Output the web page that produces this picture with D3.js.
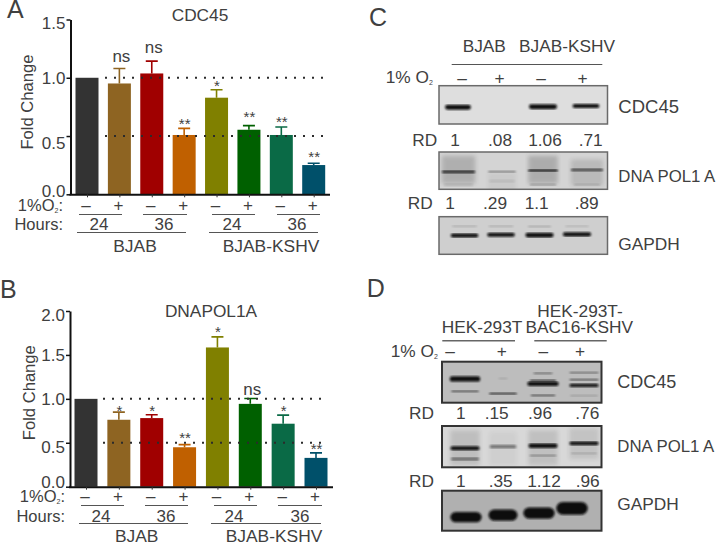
<!DOCTYPE html>
<html><head><meta charset="utf-8">
<script src="https://cdn.jsdelivr.net/npm/d3@7/dist/d3.min.js"></script>
<style>
html,body{margin:0;padding:0;background:#fff}
svg{display:block}
text{font-family:"Liberation Sans",Arial,sans-serif;fill:#404040}
</style></head><body><svg id="c" width="717" height="543"></svg>
<script>
// ---- data ----
const conditions = ["BJAB 24 -","BJAB 24 +","BJAB 36 -","BJAB 36 +","KSHV 24 -","KSHV 24 +","KSHV 36 -","KSHV 36 +"];
const barColors = ["#333333","#8e6422","#a00000","#c06000","#808000","#006000","#0a6a46","#00506a"];
const oxygen = ["–","+","–","+","–","+","–","+"];
const hours = ["24","36","24","36"];
const cellLines = ["BJAB","BJAB-KSHV"];

const cdc45Values = [1.0,0.951,1.037,0.509,0.829,0.554,0.509,0.251];
const cdc45Errors = [1.0,1.08,1.143,0.566,0.897,0.589,0.577,0.266];
const cdc45Marks  = ["","ns","ns","**","*","**","**","**"];
const cdc45MarkAt = [0,1.137,1.209,0.551,0.874,0.609,0.566,0.266];
const cdc45Ticks  = [0,0.5,1.0,1.5];

const pol1Values = [1.0,0.762,0.781,0.449,1.585,0.943,0.717,0.328];
const pol1Errors = [1.0,0.849,0.819,0.479,1.706,1.004,0.815,0.385];
const pol1Marks  = ["","*","*","**","*","ns","*","**"];
const pol1MarkAt = [0,0.792,0.792,0.479,1.687,1.045,0.792,0.351];
const pol1Ticks  = [0,0.5,1.0,1.5,2.0];

const refLevels = [0.5,1.0];

const rdC1 = ["1",".08","1.06",".71"];
const rdC2 = ["1",".29","1.1",".89"];
const rdD1 = ["1",".15",".96",".76"];
const rdD2 = ["1",".35","1.12",".96"];

// blot bands: [lane, relative position in the blot, ink 0-1, thickness share, relative width]
const bandsC1 = [[0,.56,1,.13,.92],[2,.55,1,.13,1],[3,.53,1,.11,.96]];
const smearC2 = [[0,.1,.22,.75,1.15],[1,.55,.06,.6,.95],[2,.1,.24,.75,1.02],[3,.2,.16,.7,1.1]];
const bandsC2 = [[0,.53,1,.06,1.15],[1,.53,.5,.035,.95],[2,.5,1,.06,1.02],[3,.48,1,.05,1.1],
                 [0,.88,.15,.06,1],[2,.88,.3,.05,.9],[3,.88,.2,.04,.9],[1,.78,.1,.06,.9]];
const bandsC3 = [[0,.5,1,.11,.95],[1,.48,1,.11,.95],[2,.49,1,.12,.97],[3,.47,1,.11,.97],
                 [0,.25,.22,.04,.85],[1,.25,.22,.04,.85],[2,.26,.22,.04,.8],[3,.25,.18,.04,.8]];
const bandsD1 = [[0,.42,1,.13,1.05],[0,.72,.7,.04,.95],[1,.41,.2,.025,.3],[1,.78,.8,.05,.95],
                 [2,.54,1,.11,1.08],[2,.46,.7,.05,.9],[2,.82,.6,.045,.85],[2,.28,.5,.04,.65],
                 [3,.58,1,.08,1],[3,.44,.65,.04,1],[3,.27,.5,.035,1],[3,.83,.2,.035,.95]];
const smearD2 = [[0,.1,.15,.85,1],[1,.15,.05,.8,.92],[2,.1,.14,.85,1],[3,.05,.12,.75,1]];
const bandsD2 = [[0,.54,1,.1,1],[0,.8,.5,.07,.97],[1,.5,.5,.08,.92],[2,.48,1,.11,1],[2,.72,.35,.05,.92],[3,.42,1,.09,1],[3,.66,.2,.04,.9]];
const bandsD3 = [[0,.66,1,.26,1.08],[1,.61,1,.28,1],[2,.56,1,.28,1.08],[3,.44,1,.32,1.08]];

// ---- drawing ----
const svg = d3.select("#c");
const defs = svg.append("defs");
defs.append("filter").attr("id","b1").append("feGaussianBlur").attr("stdDeviation",0.9);
defs.append("filter").attr("id","b2").append("feGaussianBlur").attr("stdDeviation",2);

function txt(x,y,s,o={}){
  const t=svg.append("text").attr("x",x).attr("y",y).attr("font-size",o.size||17.3)
    .attr("text-anchor",o.anchor||"start").text(s);
  return t;
}
function rule(x0,x1,y,c="#555",w=1){
  svg.append("line").attr("x1",x0).attr("x2",x1).attr("y1",y).attr("y2",y).attr("stroke",c).attr("stroke-width",w);
}
function o2(x,y,label,o={}){
  const t=txt(x,y,label,o);
  t.append("tspan").attr("font-size",7).attr("dy",2).text("2");
  return t;
}

function barPanel(p){
  const g=svg.append("g");
  const x=d3.scalePoint().domain(conditions).range(p.xr);
  const y=d3.scaleLinear().domain([0,p.max]).range([p.y0,p.y1]);
  const w=23;
  g.selectAll(".bar").data(p.values).join("rect").attr("class","bar")
    .attr("x",(d,i)=>x(conditions[i])-w/2).attr("width",w)
    .attr("y",d=>y(d)).attr("height",d=>p.y0-y(d)).attr("fill",(d,i)=>barColors[i]);
  p.errors.forEach((e,i)=>{
    if(e<=p.values[i])return;
    const cx=x(conditions[i]);
    g.append("path").attr("d",`M${cx},${y(p.values[i])}V${y(e)}M${cx-6},${y(e)}H${cx+6}`)
      .attr("stroke",barColors[i]).attr("stroke-width",1.6).attr("fill","none");
  });
  refLevels.forEach(v=>{
    g.append("line").attr("x1",p.refX[0]).attr("x2",p.refX[1]).attr("y1",y(v)).attr("y2",y(v))
      .attr("stroke","#2b2b2b").attr("stroke-width",2).attr("stroke-dasharray","2 7");
  });
  const ax=g.append("g").attr("transform",`translate(${p.axX},0)`)
    .call(d3.axisLeft(y).tickValues(p.ticks).tickFormat(d3.format(".1f")).tickSize(4).tickSizeOuter(0));
  ax.selectAll("path").attr("stroke","#111").attr("stroke-width",2);
  ax.selectAll("line").attr("stroke","#111").attr("stroke-width",1.5);
  ax.selectAll("text").attr("font-size",17).attr("fill","#404040").attr("x",-5)
    .attr("font-family",'"Liberation Sans",Arial,sans-serif')
    .attr("dy",d=>p.tickDy(d));
  const bx=g.append("g").attr("transform",`translate(0,${p.y0})`)
    .call(d3.axisBottom(x).tickSize(3).tickSizeOuter(0).tickFormat(""));
  bx.select("path").attr("d",`M${p.axX-1},0.5H${p.axEnd}`).attr("stroke","#111").attr("stroke-width",2);
  bx.selectAll("line").attr("stroke","#333").attr("stroke-width",1);
  p.marks.forEach((m,i)=>{
    if(!m)return;
    const ns=m==="ns";
    txt(x(conditions[i])+(ns?2:0.5),y(p.markAt[i])-(ns?0:1.5),m,{anchor:"middle",size:ns?17:15});
  });
  txt(p.titleX,p.titleY,p.title,{anchor:"middle"});
  txt(0,0,"Fold Change",{size:16.6}).attr("x",null).attr("y",null).attr("text-anchor","middle")
    .attr("transform",`translate(${p.ylab[0]},${p.ylab[1]}) rotate(-90)`);
  // treatment rows
  o2(p.o2End,p.rowO,"1%O",{anchor:"end",size:16.5}).append("tspan").attr("dy",-2).text(":");
  txt(p.o2End,p.rowH,"Hours:",{anchor:"end",size:16.5});
  oxygen.forEach((s,i)=>txt(x(conditions[i])-1,p.rowO,s,{anchor:"middle",size:17}));
  p.hourRules.forEach(([a,b],i)=>{
    rule(a,b,p.ruleO);
    txt(p.hourX[i],p.rowH,hours[i],{anchor:"middle",size:17});
  });
  p.lineRules.forEach(([a,b],i)=>{
    rule(a,b,p.ruleH);
    txt(p.lineX[i],p.rowL,cellLines[i],{anchor:"middle",size:17.4});
  });
}

barPanel({values:cdc45Values,errors:cdc45Errors,marks:cdc45Marks,markAt:cdc45MarkAt,ticks:cdc45Ticks,max:1.5,
  xr:[87,313.7],y0:194.3,y1:19.5,axX:70.5,axEnd:330,refX:[105,324],title:"CDC45",titleX:200,titleY:21,
  tickDy:d=>({0:"0.15em",0.5:"0.75em",1:"0.35em",1.5:"0.55em"}[d]),
  ylab:[33,102],o2End:63,rowO:211,rowH:230,rowL:251.5,ruleO:214.5,ruleH:232.5,
  hourX:[99,164,232,297],lineX:[135,271],
  hourRules:[[79,122],[143,187],[212,255],[277,320]],lineRules:[[77,186],[209,318]]});

barPanel({values:pol1Values,errors:pol1Errors,marks:pol1Marks,markAt:pol1MarkAt,ticks:pol1Ticks,max:2,
  xr:[86,316],y0:486.7,y1:311,axX:70,axEnd:333,refX:[103,323],title:"DNAPOL1A",titleX:211,titleY:317,
  tickDy:d=>({0:"0.05em",0.5:"0.6em",1:"0.35em",1.5:"0.35em",2:"0.55em"}[d]),
  ylab:[35,392.7],o2End:65,rowO:502.3,rowH:521.5,rowL:542,ruleO:505.5,ruleH:523.5,
  hourX:[101,166,234,300],lineX:[136.7,274],
  hourRules:[[81,124],[145,188],[214,257],[278,322]],lineRules:[[79,188],[211,321]]});

function blot(b){
  const g=svg.append("g");
  const lane=d3.scaleOrdinal().domain([0,1,2,3]).range(b.lanes);
  const y=d3.scaleLinear().domain([0,1]).range([b.y0,b.y1]);
  const h=b.y1-b.y0;
  g.append("rect").attr("x",b.x0).attr("y",b.y0).attr("width",b.x1-b.x0).attr("height",h)
    .attr("fill",b.bg);
  const clip="cl"+b.id;
  defs.append("clipPath").attr("id",clip).append("rect").attr("x",b.x0).attr("y",b.y0).attr("width",b.x1-b.x0).attr("height",h);
  const inner=g.append("g").attr("clip-path",`url(#${clip})`);
  (b.smear||[]).forEach(([l,p,ink,t,wr])=>{
    const w=b.bandW*wr;
    inner.append("rect").attr("x",lane(l)-w/2).attr("y",y(p)).attr("width",w).attr("height",t*h)
      .attr("fill","#333").attr("opacity",ink).attr("filter","url(#b2)");
  });
  b.bands.forEach(([l,p,ink,t,wr])=>{
    const w=b.bandW*wr, th=t*h;
    inner.append("rect").attr("x",lane(l)-w/2).attr("y",y(p)-th/2).attr("width",w).attr("height",th)
      .attr("rx",th/2).attr("fill","#0b0b0b").attr("opacity",ink).attr("filter","url(#b1)");
  });
  g.append("rect").attr("x",b.x0).attr("y",b.y0).attr("width",b.x1-b.x0).attr("height",h)
    .attr("fill","none").attr("stroke",b.edge).attr("stroke-width",b.edgeW);
}
const lanesC=[458,502,543,586];
blot({id:"c1",x0:439,x1:607.5,y0:85.7,y1:124,bg:"#dedede",edge:"#6a6a6a",edgeW:1.5,lanes:lanesC,bandW:28,bands:bandsC1});
blot({id:"c2",x0:439,x1:607.5,y0:152,y1:189.3,bg:"#d4d4d4",edge:"#6a6a6a",edgeW:1.5,lanes:[458.5,502,543,587],bandW:29,bands:bandsC2,smear:smearC2});
blot({id:"c3",x0:439,x1:607.5,y0:216.7,y1:254.3,bg:"#cfcfcf",edge:"#6a6a6a",edgeW:1.5,lanes:[464.5,501,539.5,577],bandW:29,bands:bandsC3});
const lanesD=[465,503,543,584];
blot({id:"d1",x0:442,x1:601.5,y0:361.7,y1:402.7,bg:"#bdbdbd",edge:"#333",edgeW:2,lanes:lanesD,bandW:29,bands:bandsD1});
blot({id:"d2",x0:442,x1:601.5,y0:426,y1:467.3,bg:"#d8d8d8",edge:"#333",edgeW:2,lanes:lanesD,bandW:29,bands:bandsD2,smear:smearD2});
blot({id:"d3",x0:442,x1:601.5,y0:490.7,y1:530.7,bg:"#b0b0b0",edge:"#333",edgeW:2,lanes:[466,503,539,572],bandW:29,bands:bandsD3});

// panel C labels
txt(484.3,51.7,cellLines[0],{anchor:"middle"});
txt(567,51.7,cellLines[1],{anchor:"middle"});
rule(451.7,602.3,64.5,"#555",1);
o2(385.7,83.3,"1% O");
[462,499.5,541,582.5].forEach((cx,i)=>txt(cx,83.5,oxygen[i],{anchor:"middle"}));
txt(412.3,146,"RD");
[455,500,545,590.7].forEach((cx,i)=>txt(cx,146,rdC1[i],{anchor:"middle"}));
txt(407.7,209.3,"RD");
[450,495,536.7,586.7].forEach((cx,i)=>txt(cx,209.3,rdC2[i],{anchor:"middle"}));
txt(618.3,113,"CDC45",{size:18.5});
txt(618.3,181.7,"DNA POL1 A",{size:16.8});
txt(618.3,250,"GAPDH");

// panel D labels
txt(580,316.7,"HEK-293T-",{anchor:"middle"});
txt(579.3,333.3,"BAC16-KSHV",{anchor:"middle"});
txt(482,333.3,"HEK-293T",{anchor:"middle"});
rule(442.3,515,340.7,"#666",1.5);
rule(534.3,606.7,340.7,"#666",1.5);
o2(390.7,357.3,"1% O");
[450,501.7,543.3,580].forEach((cx,i)=>txt(cx,357.3,oxygen[i],{anchor:"middle"}));
txt(409,419.3,"RD");
[460.7,496.7,540,587.3].forEach((cx,i)=>txt(cx,419.3,rdD1[i],{anchor:"middle"}));
txt(409,486.7,"RD");
[460.7,500.7,544,587.7].forEach((cx,i)=>txt(cx,486.7,rdD2[i],{anchor:"middle"}));
txt(617.3,388.3,"CDC45",{size:18});
txt(617.3,452.3,"DNA POL1 A",{size:16.8});
txt(617.3,510,"GAPDH");

// panel letters
txt(7,18,"A",{size:25});
txt(0,298.3,"B",{size:25});
txt(369,25.7,"C",{size:25});
txt(366.7,296.7,"D",{size:25});
</script></body></html>
